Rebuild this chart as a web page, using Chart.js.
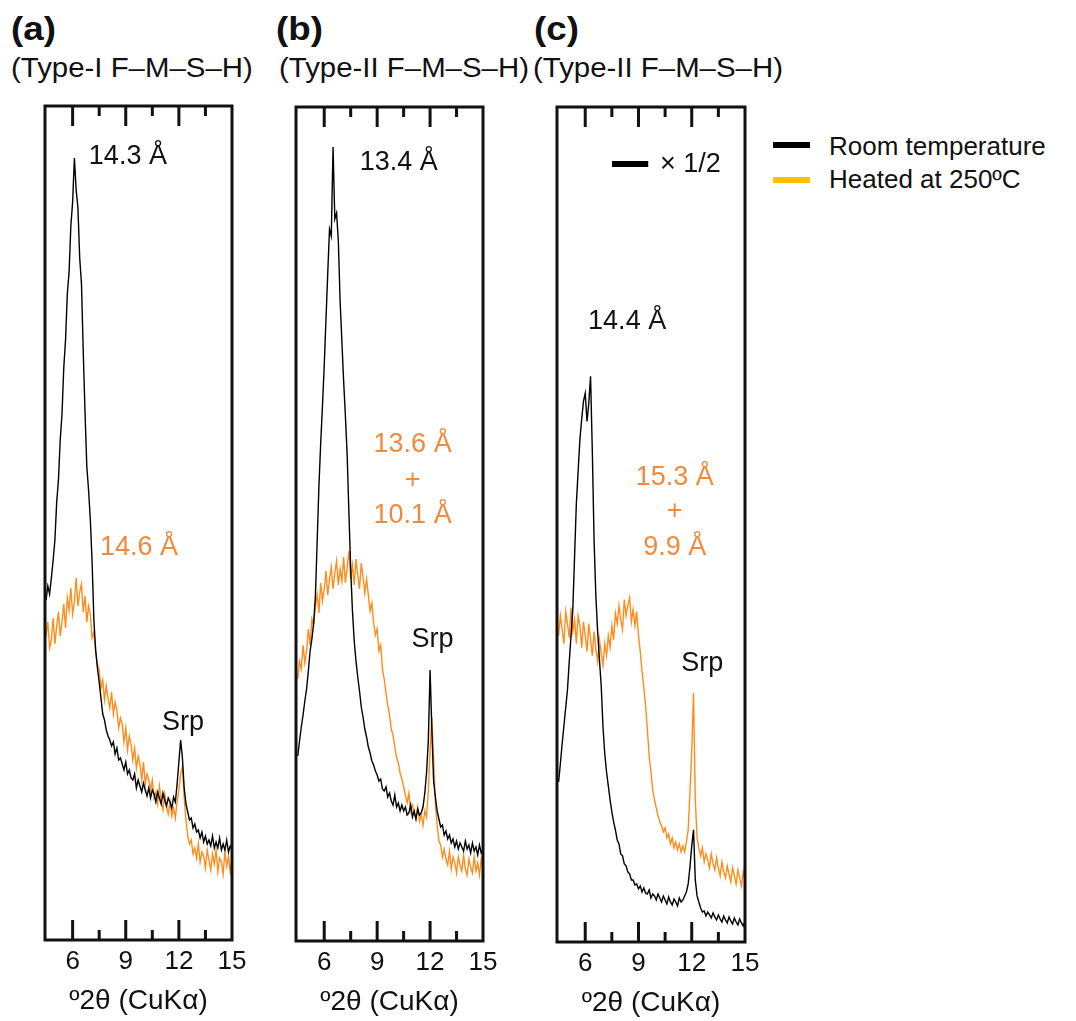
<!DOCTYPE html>
<html>
<head>
<meta charset="utf-8">
<script src="https://cdn.jsdelivr.net/npm/chart.js@4.4.0/dist/chart.umd.min.js"></script>
<style>
  body { margin: 0; background: #fff; width: 1076px; height: 1021px; position: relative; overflow: hidden;
         font-family: 'Liberation Sans', Arial, sans-serif; color: #111; }
  .t { position: absolute; white-space: nowrap; line-height: 1; transform-origin: left top; }
  .lbl { font-size: 34px; font-weight: bold; top: 11px; transform: scaleX(1.08); }
  .sub { font-size: 28px; top: 54px; transform: scaleX(1.05); }
  .leg { font-size: 26px; left: 829px; }
  .bar { position: absolute; left: 773px; width: 37px; height: 6px; }
  canvas { position: absolute; }
</style>
</head>
<body>

<div class="t lbl" style="left:11px">(a)</div>
<div class="t lbl" style="left:276px">(b)</div>
<div class="t lbl" style="left:534px">(c)</div>
<div class="t sub" style="left:11px">(Type-I F–M–S–H)</div>
<div class="t sub" style="left:279px">(Type-II F–M–S–H)</div>
<div class="t sub" style="left:533px">(Type-II F–M–S–H)</div>

<div class="bar" style="top:142px;background:#000"></div>
<div class="t leg" style="top:133px">Room temperature</div>
<div class="bar" style="top:177px;background:#FFC000"></div>
<div class="t leg" style="top:166px">Heated at 250ºC</div>

<canvas id="chartA"></canvas>
<canvas id="chartB"></canvas>
<canvas id="chartC"></canvas>

<script>
// eixo x: 2theta (graus)
const twoTheta = [
  4.5, 4.6, 4.7, 4.8, 4.9, 5.0, 5.1, 5.2, 5.3, 5.4,
  5.5, 5.6, 5.7, 5.8, 5.9, 6.0, 6.1, 6.2, 6.3, 6.4,
  6.5, 6.6, 6.7, 6.8, 6.9, 7.0, 7.1, 7.2, 7.3, 7.4,
  7.5, 7.6, 7.7, 7.8, 7.9, 8.0, 8.1, 8.2, 8.3, 8.4,
  8.5, 8.6, 8.7, 8.8, 8.9, 9.0, 9.1, 9.2, 9.3, 9.4,
  9.5, 9.6, 9.7, 9.8, 9.9, 10.0, 10.1, 10.2, 10.3, 10.4,
  10.5, 10.6, 10.7, 10.8, 10.9, 11.0, 11.1, 11.2, 11.3, 11.4,
  11.5, 11.6, 11.7, 11.8, 11.9, 12.0, 12.1, 12.2, 12.3, 12.4,
  12.5, 12.6, 12.7, 12.8, 12.9, 13.0, 13.1, 13.2, 13.3, 13.4,
  13.5, 13.6, 13.7, 13.8, 13.9, 14.0, 14.1, 14.2, 14.3, 14.4,
  14.5, 14.6, 14.7, 14.8, 14.9, 15.0
];

// (a) Type-I
const roomA = [
  340, 354, 346, 362, 380, 400, 438, 460, 500, 526,
  572, 600, 646, 668, 714, 738, 782, 750, 732, 682,
  656, 588, 528, 474, 450, 420, 378, 320, 290, 272,
  258, 242, 226, 220, 210, 204, 200, 194, 198, 186,
  192, 180, 182, 176, 170, 178, 166, 170, 162, 160,
  166, 152, 160, 154, 148, 157, 150, 144, 152, 142,
  150, 146, 138, 148, 142, 136, 147, 140, 134, 142,
  138, 132, 143, 138, 156, 178, 200, 182, 152, 136,
  128, 120, 122, 112, 116, 108, 110, 102, 108, 98,
  104, 96, 100, 94, 104, 92, 98, 92, 102, 90,
  96, 90, 100, 88, 94, 90
];
const heatedA = [
  304, 318, 292, 300, 322, 296, 314, 328, 304, 318,
  336, 312, 342, 330, 352, 326, 338, 362, 334, 348,
  356, 328, 344, 318, 334, 326, 302, 308, 288, 276,
  270, 252, 260, 240, 254, 242, 232, 248, 226, 238,
  230, 212, 222, 216, 198, 212, 190, 204, 196, 180,
  192, 172, 184, 176, 160, 178, 156, 166, 160, 150,
  160, 142, 148, 136, 154, 140, 130, 146, 134, 126,
  138, 124, 132, 122, 138, 150, 166, 173, 142, 120,
  104, 96, 100, 86, 92, 82, 96, 78, 88, 84,
  72, 90, 80, 70, 86, 76, 90, 68, 82, 78,
  66, 88, 74, 84, 68, 80
];

// (b) Type-II
const roomB = [
  185, 200, 214, 226, 240, 252, 270, 290, 302, 318,
  345, 400, 455, 498, 535, 575, 622, 668, 712, 705,
  794, 722, 728, 700, 640, 600, 560, 525, 486, 428,
  372, 330, 300, 280, 264, 250, 234, 224, 212, 204,
  194, 188, 180, 176, 170, 166, 160, 162, 152, 150,
  154, 144, 148, 140, 136, 146, 134, 138, 130, 136,
  130, 134, 126, 128, 136, 124, 130, 122, 132, 126,
  128, 134, 148, 168, 200, 271, 212, 160, 144, 130,
  122, 114, 116, 106, 110, 102, 106, 98, 102, 94,
  100, 92, 98, 94, 90, 100, 92, 96, 88, 98,
  90, 94, 86, 96, 88, 92
];
const heatedB = [
  262, 280, 272, 296, 278, 290, 312, 296, 322, 316,
  334, 346, 328, 358, 340, 352, 370, 346, 362, 374,
  352, 368, 380, 356, 372, 360, 384, 358, 374, 390,
  362, 376, 356, 382, 366, 352, 378, 364, 348, 362,
  346, 330, 338, 318, 306, 312, 290, 296, 272, 262,
  248, 236, 226, 212, 206, 194, 184, 178, 168, 162,
  154, 146, 138, 148, 130, 136, 128, 122, 134, 120,
  126, 116, 130, 124, 150, 190, 224, 182, 138, 116,
  100, 96, 84, 92, 82, 76, 90, 72, 84, 78,
  68, 84, 76, 70, 86, 72, 66, 82, 74, 68,
  84, 70, 78, 66, 82, 74
];

// (c) Type-II (temperatura ambiente x 1/2)
const roomC = [
  160, 178, 198, 216, 234, 252, 280, 306, 332, 385,
  438, 470, 502, 522, 540, 548, 520, 538, 565, 490,
  400, 345, 310, 282, 256, 215, 188, 170, 156, 142,
  130, 120, 112, 102, 98, 88, 86, 78, 76, 70,
  68, 62, 62, 57, 58, 53, 56, 50, 54, 49,
  48, 52, 44, 48, 46, 42, 48, 44, 40, 46,
  42, 38, 45, 40, 37, 43, 40, 36, 44, 40,
  42, 46, 50, 58, 75, 96, 112, 62, 46, 40,
  34, 30, 31, 26, 30, 27, 24, 29, 25, 22,
  27, 23, 20, 26, 22, 19, 25, 21, 18, 24,
  20, 17, 23, 19, 16, 21
];
const heatedC = [
  306, 326, 312, 298, 330, 318, 304, 334, 310, 322,
  298, 326, 316, 294, 320, 306, 290, 318, 302, 286,
  310, 292, 280, 302, 288, 276, 298, 286, 306, 294,
  316, 302, 328, 318, 336, 322, 312, 342, 326, 336,
  344, 320, 332, 316, 330, 306, 290, 270, 254, 236,
  212, 186, 170, 152, 142, 134, 126, 120, 116, 110,
  114, 104, 108, 98, 104, 94, 100, 92, 98, 90,
  96, 90, 100, 112, 150, 190, 249, 142, 104, 94,
  86, 94, 80, 88, 82, 74, 88, 78, 72, 84,
  74, 66, 80, 70, 64, 76, 68, 60, 74, 66,
  58, 72, 64, 56, 70, 62
];

const tickLabels = [6, 9, 12, 15];
const tickMarks = [6, 7.5, 9, 10.5, 12, 13.5];
const majorTicks = [6, 9, 12];

const FONT = '"Liberation Sans", Arial, sans-serif';
const ORANGE = '#FF8C1A';
const ORANGE_TXT = '#F08A3C';

// moldura + marcas internas + anotacoes
function framePlugin(notas) {
  return {
    id: 'frame',
    afterDatasetsDraw(chart) {
      const { ctx, chartArea: a, scales: { x, y } } = chart;
      ctx.save();
      ctx.strokeStyle = '#111';
      ctx.lineWidth = 3;
      ctx.strokeRect(a.left, a.top, a.right - a.left, a.bottom - a.top);
      tickMarks.forEach(v => {
        const px = x.getPixelForValue(v);
        const len = majorTicks.includes(v) ? 20 : 10;
        ctx.beginPath();
        ctx.moveTo(px, a.top);
        ctx.lineTo(px, a.top + len);
        ctx.moveTo(px, a.bottom);
        ctx.lineTo(px, a.bottom - len);
        ctx.stroke();
      });
      ctx.textBaseline = 'middle';
      notas.forEach(n => {
        ctx.font = '27px ' + FONT;
        ctx.fillStyle = n.color;
        ctx.textAlign = n.align || 'center';
        ctx.fillText(n.text, x.getPixelForValue(n.x), y.getPixelForValue(n.y));
        if (n.bar) {
          ctx.strokeStyle = '#000';
          ctx.lineWidth = 6;
          ctx.beginPath();
          ctx.moveTo(x.getPixelForValue(n.bar[0]), y.getPixelForValue(n.y));
          ctx.lineTo(x.getPixelForValue(n.bar[1]), y.getPixelForValue(n.y));
          ctx.stroke();
        }
      });
      ctx.restore();
    }
  };
}

function plotarPainel(id, box, preto, laranja, notas) {
  const canvas = document.getElementById(id);
  canvas.width = box.right - box.left + 60;
  canvas.height = box.bottom - box.top + 10 + 90;
  canvas.style.left = (box.left - 30) + 'px';
  canvas.style.top = (box.top - 10) + 'px';

  const dados = {
    datasets: [
      {
        label: 'Room temperature',
        data: twoTheta.map((t, i) => ({ x: t, y: preto[i] })),
        borderColor: '#000',
        borderWidth: 1.4,
        pointRadius: 0,
        tension: 0
      },
      {
        label: 'Heated at 250ºC',
        data: twoTheta.map((t, i) => ({ x: t, y: laranja[i] })),
        borderColor: ORANGE,
        borderWidth: 1.4,
        pointRadius: 0,
        tension: 0
      }
    ]
  };

  const config = {
    type: 'line',
    data: dados,
    options: {
      responsive: false,
      animation: false,
      events: [],
      layout: { padding: { left: 30, right: 30, top: 10, bottom: 0 } },
      plugins: { legend: { display: false }, tooltip: { enabled: false } },
      scales: {
        x: {
          type: 'linear',
          min: box.xMin,
          max: 15,
          grid: { display: false, drawTicks: false },
          border: { display: false },
          ticks: { color: '#111', padding: 6, font: { size: 26, family: FONT } },
          afterBuildTicks: s => { s.ticks = tickLabels.map(v => ({ value: v })); },
          afterFit: s => { s.height = 90; },
          title: {
            display: true,
            text: 'º2θ (CuKα)',
            color: '#111',
            font: { size: 28, family: FONT },
            padding: { top: 0, bottom: 12 }
          }
        },
        y: { display: false, min: 0, max: 834 }
      }
    },
    plugins: [framePlugin(notas)]
  };

  return new Chart(canvas, config);
}

plotarPainel('chartA', { left: 45, right: 232, top: 106, bottom: 940, xMin: 4.44 }, roomA, heatedA, [
  { text: '14.3 Å', x: 9.12, y: 783, color: '#111' },
  { text: '14.6 Å', x: 9.75, y: 392, color: ORANGE_TXT },
  { text: 'Srp', x: 12.23, y: 217, color: '#111' }
]);

plotarPainel('chartB', { left: 296, right: 483, top: 107, bottom: 941, xMin: 4.40 }, roomB, heatedB, [
  { text: '13.4 Å', x: 10.22, y: 778, color: '#111' },
  { text: '13.6 Å', x: 11.01, y: 496, color: ORANGE_TXT },
  { text: '+', x: 11.01, y: 460, color: ORANGE_TXT },
  { text: '10.1 Å', x: 11.01, y: 425, color: ORANGE_TXT },
  { text: 'Srp', x: 12.14, y: 301, color: '#111' }
]);

plotarPainel('chartC', { left: 557, right: 745, top: 107, bottom: 942, xMin: 4.41 }, roomC, heatedC, [
  { text: '14.4 Å', x: 8.36, y: 620, color: '#111' },
  { text: '15.3 Å', x: 11.04, y: 464, color: ORANGE_TXT },
  { text: '+', x: 11.04, y: 430, color: ORANGE_TXT },
  { text: '9.9 Å', x: 11.04, y: 394, color: ORANGE_TXT },
  { text: 'Srp', x: 12.59, y: 278, color: '#111' },
  { text: '× 1/2', x: 10.21, y: 777, color: '#111', align: 'left', bar: [7.51, 9.55] }
]);
</script>
</body>
</html>
